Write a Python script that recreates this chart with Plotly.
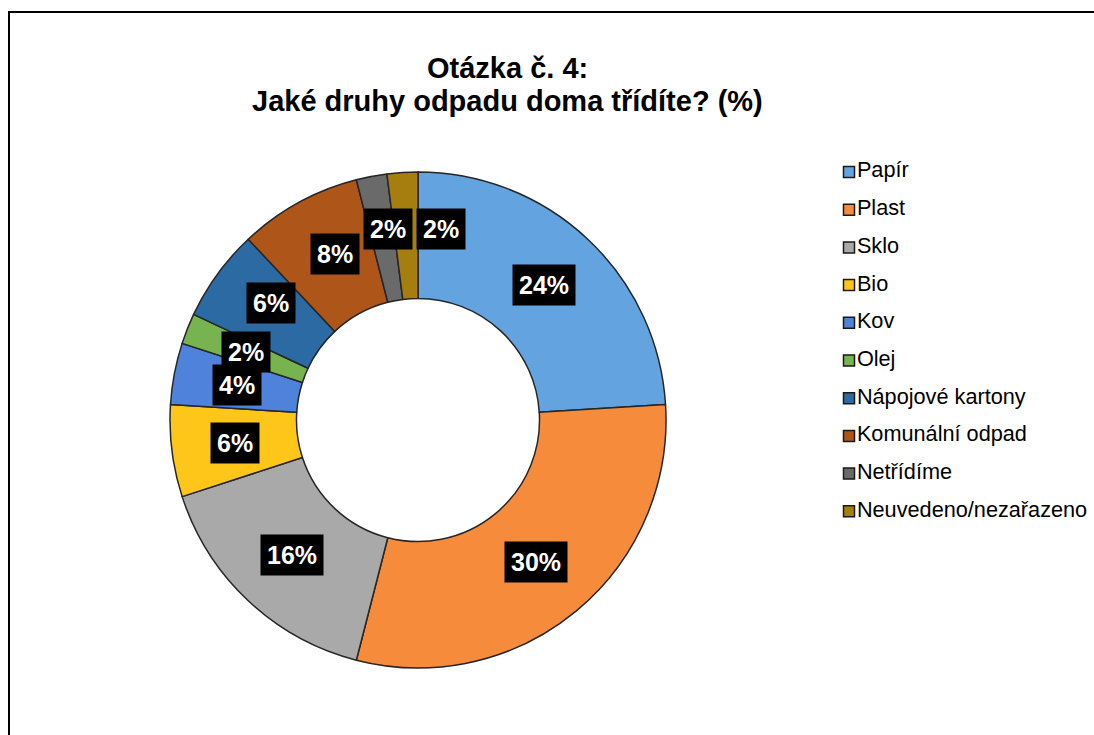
import math
import plotly.graph_objects as go

# survey answers, clockwise from 12 o'clock
categories = ['Papír', 'Plast', 'Sklo', 'Bio', 'Kov', 'Olej',
              'Nápojové kartony', 'Komunální odpad', 'Netřídíme',
              'Neuvedeno/nezařazeno']
values = [24, 30, 16, 6, 4, 2, 6, 8, 2, 2]
colors = ['#62A3E0', '#F68B3C', '#A9A9A9', '#FFC61A', '#4F82DA',
          '#77B450', '#2B6AA3', '#AE5519', '#6A6A6A', '#A67E10']
title_lines = ['Otázka č. 4:', 'Jaké druhy odpadu doma třídíte? (%)']

W, H = 1094, 735
FONT = 'Liberation Sans, Arial, sans-serif'

# donut geometry in pixels
cx, cy, R = 418, 420, 248
hole = 0.49
r_lab = R * (1 + hole) / 2

fig = go.Figure()

fig.add_trace(go.Pie(
    labels=categories,
    values=values,
    sort=False,
    direction='clockwise',
    rotation=0,
    hole=hole,
    marker=dict(colors=colors, line=dict(color='#262626', width=1.5)),
    textinfo='none',
    hoverinfo='label+percent',
    showlegend=False,
    domain=dict(x=[(cx - R) / W, (cx + R) / W],
                y=[(H - cy - R) / H, (H - cy + R) / H]),
))

# data labels in black boxes, placed at slice middles
nudge = {'Netřídíme': (5, -10), 'Neuvedeno/nezařazeno': (35, -7),
         'Komunální odpad': (6, -4), 'Nápojové kartony': (2, -8)}
total = sum(values)
cum = 0
annotations = []
for cat, v in zip(categories, values):
    mid = (cum + v / 2) / total * 2 * math.pi
    cum += v
    dx, dy = nudge.get(cat, (0, 0))
    annotations.append(dict(
        x=cx + r_lab * math.sin(mid) + dx,
        y=cy - r_lab * math.cos(mid) + dy,
        xref='x', yref='y', showarrow=False,
        text=f'<b>{round(v / total * 100)}%</b>',
        font=dict(family=FONT, size=25, color='white'),
        bgcolor='black', borderpad=6,
    ))

# two-line title
for i, line in enumerate(title_lines):
    annotations.append(dict(
        x=507, y=68 + i * 33, xref='x', yref='y', showarrow=False,
        text=f'<b>{line}</b>',
        font=dict(family=FONT, size=29, color='black'),
    ))

# legend drawn as square markers with text
leg_x, leg_y, leg_step = 849, 172, 37.7
fig.add_trace(go.Scatter(
    x=[leg_x] * len(categories),
    y=[leg_y + i * leg_step for i in range(len(categories))],
    mode='markers+text',
    marker=dict(symbol='square', size=11, color=colors,
                line=dict(color='#1a1a1a', width=1.5)),
    text=categories,
    textposition='middle right',
    textfont=dict(family=FONT, size=21.7, color='black'),
    hoverinfo='skip',
    showlegend=False,
    cliponaxis=False,
))

fig.update_layout(
    width=W, height=H,
    margin=dict(l=0, r=0, t=0, b=0),
    paper_bgcolor='white', plot_bgcolor='rgba(0,0,0,0)',
    xaxis=dict(range=[0, W], visible=False, fixedrange=True),
    yaxis=dict(range=[H, 0], visible=False, fixedrange=True),
    annotations=annotations,
    shapes=[dict(type='rect', xref='x', yref='y',
                 x0=9, y0=12, x1=W + 10, y1=H + 10,
                 line=dict(color='black', width=2),
                 fillcolor='rgba(0,0,0,0)', layer='below')],
)

# drop the default page margin so the figure fills the window exactly
fig.write_html('out.html',
               config={'displayModeBar': False},
               post_script="document.body.style.margin='0';"
                           "document.body.style.overflow='hidden';")
